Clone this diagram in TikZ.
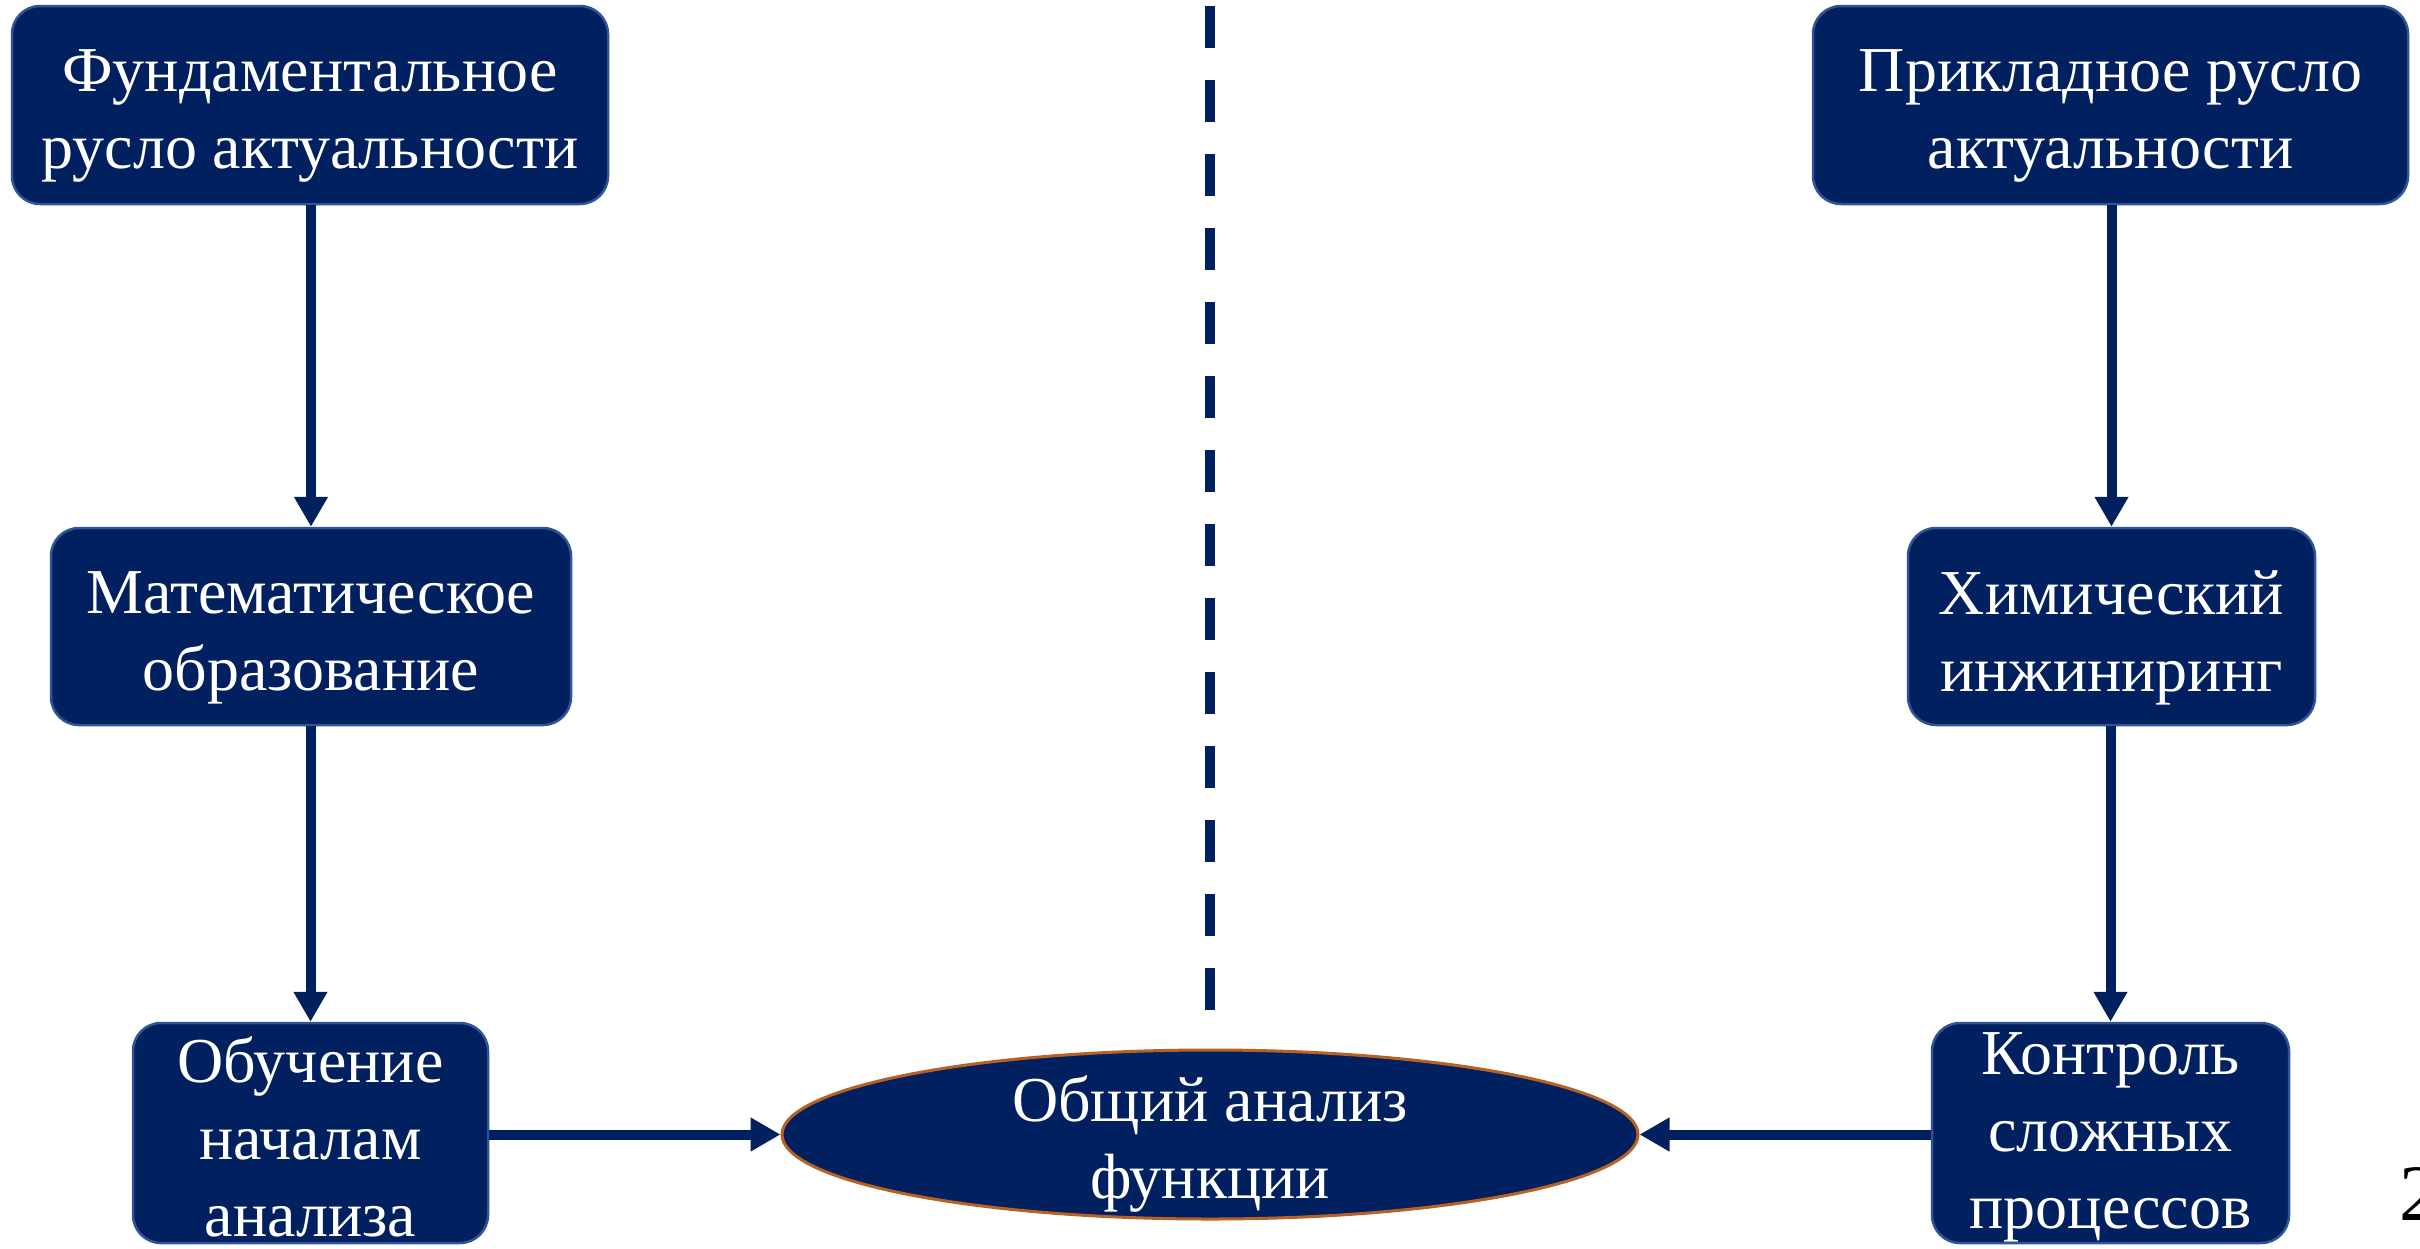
\documentclass[tikz,border=0pt]{standalone}
\usepackage{fontspec}
\setmainfont{Liberation Serif}
\usetikzlibrary{arrows.meta,shapes.geometric}
\definecolor{navy}{HTML}{002060}
\definecolor{edgeblue}{HTML}{2F5597}
\definecolor{rim}{HTML}{B86125}
\begin{document}
\begin{tikzpicture}[x=1pt,y=-1pt,
  box/.style={draw=edgeblue, line width=2.5pt, fill=navy, rounded corners=28pt,
    inner sep=0pt},
  oval/.style={ellipse, draw=rim, line width=3pt, fill=navy, inner sep=0pt},
  caption/.style={text=white, align=center, inner sep=0pt,
    font=\fontsize{64}{77}\selectfont},
  link/.style={draw=navy, line width=10pt, -{Triangle[length=30pt,width=32pt]}},
  divider/.style={draw=navy, line width=10pt, dash pattern=on 42pt off 32pt},
]
\clip (0,0) rectangle (2420,1248);
\fill[white] (0,0) rectangle (2420,1248);

% left branch
\node[box, minimum width=596pt, minimum height=198pt] (fund) at (310,105) {};
\node[caption] (fundtxt) at ([yshift=-11pt]fund.center)
  {Фундаментальное\\русло актуальности};
\node[box, minimum width=520pt, minimum height=197pt] (math) at (311,626.5) {};
\node[caption] (mathtxt) at ([yshift=-11pt]math.center)
  {Математическое\\образование};
\node[box, minimum width=355pt, minimum height=220pt] (learn) at (310.5,1133) {};
\node[caption] (learntxt) at ([yshift=-4pt]learn.center)
  {Обучение\\началам\\анализа};

% right branch
\node[box, minimum width=595pt, minimum height=198pt] (appl) at (2110.5,105) {};
\node[caption] (appltxt) at ([yshift=-11pt]appl.center)
  {Прикладное русло\\актуальности};
\node[box, minimum width=407pt, minimum height=197pt] (chem) at (2111.5,626.5) {};
\node[caption] (chemtxt) at ([yshift=-11pt]chem.center)
  {Химический\\инжиниринг};
\node[box, minimum width=357pt, minimum height=220pt] (ctrl) at (2110.5,1133) {};
\node[caption] (ctrltxt) at ([yshift=-4pt]ctrl.center)
  {Контроль\\сложных\\процессов};

% common goal
\node[oval, minimum width=856pt, minimum height=169pt] (func) at (1210,1134.5) {};
\node[caption] (functxt) at ([yshift=-9pt]func.center)
  {Общий анализ\\функции};

% connectors
\draw[link] (fund.south -| math) -- (math.north);
\draw[link] (math.south -| learn) -- (learn.north);
\draw[link] (appl.south -| chem) -- (chem.north);
\draw[link] (chem.south -| ctrl) -- (ctrl.north);
\draw[link] (learn.east |- func) -- (func.west);
\draw[link] (ctrl.west |- func) -- (func.east);

% central divider
\coordinate (divtop) at (1210,6);
\coordinate (divbot) at (1210,1011);
\draw[divider] (divtop) -- (divbot);

% slide number
\node[anchor=base west, inner sep=0pt, font=\fontsize{80}{96}\selectfont] (pagenum)
  at (2399,1220) {2};
\end{tikzpicture}
\end{document}
